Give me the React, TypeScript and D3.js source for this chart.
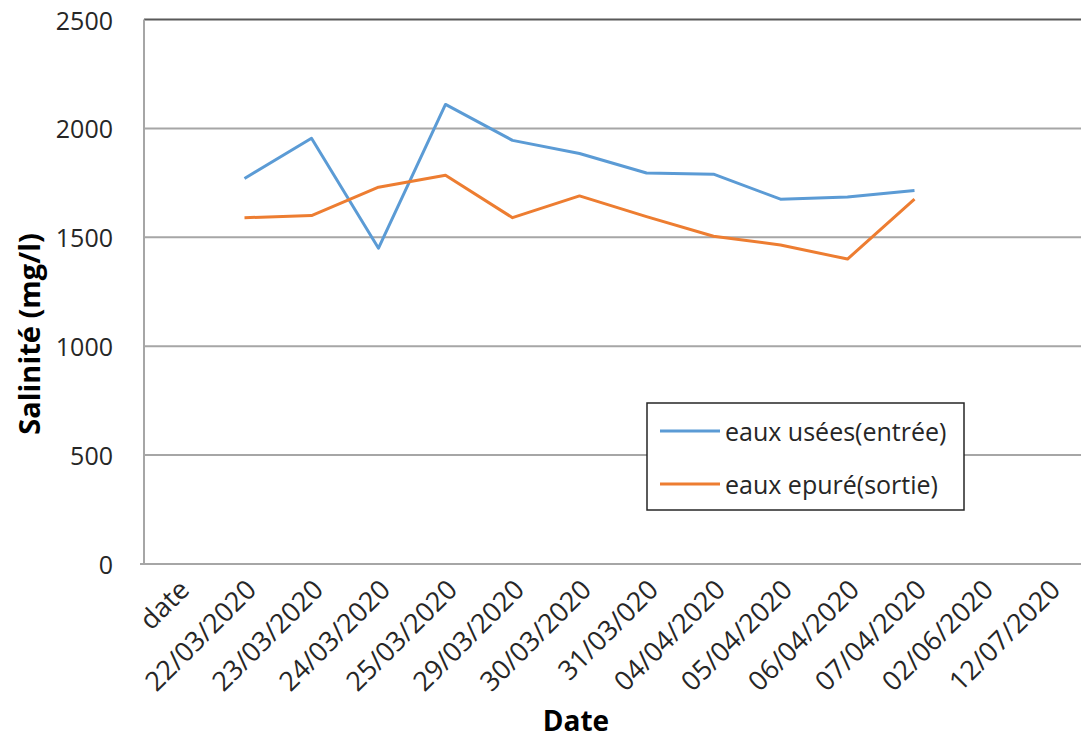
import React from "react";
import * as d3 from "d3";

const categories = [
  "date", "22/03/2020", "23/03/2020", "24/03/2020", "25/03/2020", "29/03/2020",
  "30/03/2020", "31/03/020", "04/04/2020", "05/04/2020", "06/04/2020", "07/04/2020",
  "02/06/2020", "12/07/2020",
];
const seriesDates = [
  "22/03/2020", "23/03/2020", "24/03/2020", "25/03/2020", "29/03/2020",
  "30/03/2020", "31/03/020", "04/04/2020", "05/04/2020", "06/04/2020", "07/04/2020",
];
const entree = [1770, 1955, 1450, 2110, 1945, 1885, 1795, 1790, 1675, 1685, 1715];
const sortie = [1590, 1600, 1730, 1785, 1590, 1690, 1595, 1505, 1465, 1400, 1675];
const yTicks = [0, 500, 1000, 1500, 2000, 2500];
const seriesNames = ["eaux usées(entrée)", "eaux epuré(sortie)"];
const colors = ["#5B9BD5", "#ED7D31"];

const W = 1081, H = 738;
const left = 144, right = 1082, top = 19.5, bottom = 564;
const font = "'Open Sans', 'Noto Sans', sans-serif";

export default function App() {
  const x = d3.scaleBand().domain(categories).range([left, right]);
  const cx = (c: string) => (x(c) as number) + x.bandwidth() / 2;
  const y = d3.scaleLinear().domain([0, 2500]).range([bottom, top]);
  const line = d3.line<[string, number]>().x(d => cx(d[0])).y(d => y(d[1]));
  const series = [entree, sortie].map(vals => seriesDates.map((d, i) => [d, vals[i]] as [string, number]));

  return (
    <svg width={W} height={H} style={{ position: "absolute", left: 0, top: 0, background: "#fff" }}>
      {yTicks.filter(t => t > 0 && t < 2500).map(t => (
        <line key={t} x1={left} x2={right} y1={y(t)} y2={y(t)} stroke="#a6a6a6" strokeWidth={2} />
      ))}
      <line x1={left} x2={right} y1={y(2500)} y2={y(2500)} stroke="#595959" strokeWidth={2} />
      <line x1={left - 4} x2={right} y1={y(0)} y2={y(0)} stroke="#a6a6a6" strokeWidth={2} />
      <line x1={left} x2={left} y1={top} y2={bottom} stroke="#a6a6a6" strokeWidth={2} />
      {yTicks.map(t => (
        <text key={t} x={113} y={y(t)} textAnchor="end" dominantBaseline="central"
          fontFamily={font} fontSize={25} fill="#262626">{t}</text>
      ))}
      {categories.map(c => (
        <text key={c} transform={`translate(${cx(c) + 6},${584}) rotate(-45)`} textAnchor="end"
          dominantBaseline="central" fontFamily={font} fontSize={27} fill="#262626">{c}</text>
      ))}
      {series.map((s, i) => (
        <path key={i} d={line(s) as string} fill="none" stroke={colors[i]} strokeWidth={3}
          strokeLinejoin="round" />
      ))}
      <rect x={647} y={403} width={317} height={107} fill="#fff" stroke="#262626" strokeWidth={1.5} />
      {seriesNames.map((n, i) => (
        <g key={n}>
          <line x1={660} x2={720} y1={431 + i * 53} y2={431 + i * 53} stroke={colors[i]} strokeWidth={3} />
          <text x={725} y={431 + i * 53} dominantBaseline="central" fontFamily={font} fontSize={25}
            fill="#262626">{n}</text>
        </g>
      ))}
      <text transform={`translate(28,${334}) rotate(-90)`} textAnchor="middle" dominantBaseline="central"
        fontFamily={font} fontSize={29} fontWeight="bold" fill="#000">Salinité (mg/l)</text>
      <text x={576} y={731} textAnchor="middle" fontFamily={font} fontSize={28} fontWeight="bold"
        fill="#000">Date</text>
    </svg>
  );
}
